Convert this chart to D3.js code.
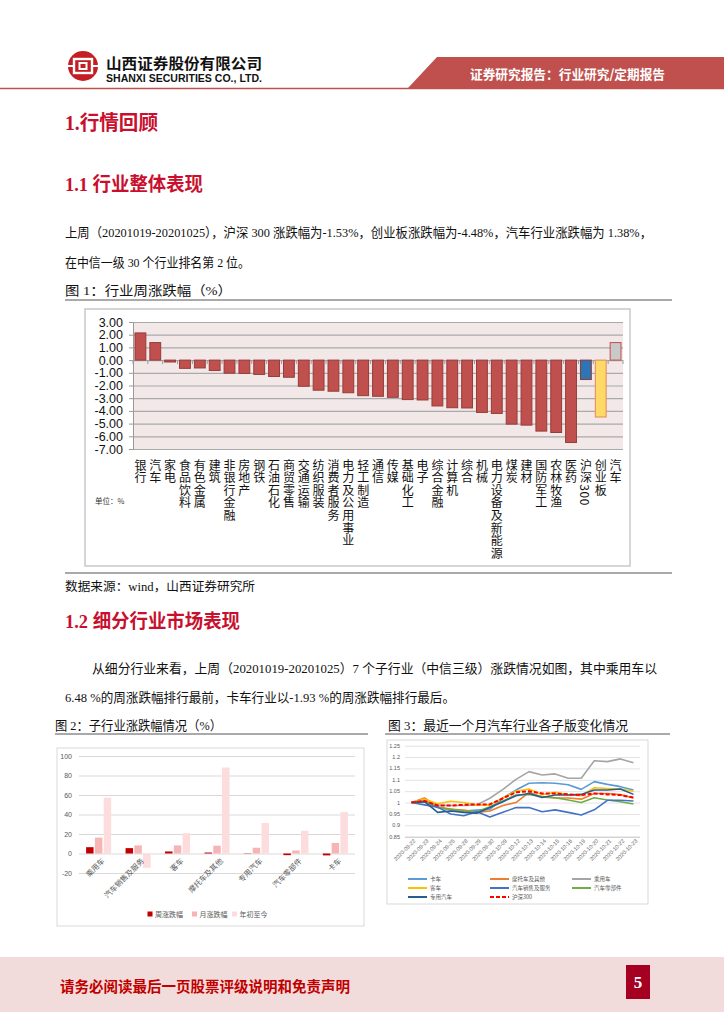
<!DOCTYPE html>
<html><head><meta charset="utf-8">
<script src="https://cdn.jsdelivr.net/npm/d3@7/dist/d3.min.js"></script>
<style>body{margin:0;background:#fff}svg{display:block}</style>
</head><body>
<script>
// ---------- DATA ----------
const industries = ["银行","汽车","家电","食品饮料","有色金属","建筑","非银行金融","房地产","钢铁","石油石化","商贸零售","交通运输","纺织服装","消费者服务","电力及公用事业","轻工制造","通信","传媒","基础化工","电子","综合金融","计算机","综合","机械","电力设备及新能源","煤炭","建材","国防军工","农林牧渔","医药","沪深300","创业板","汽车"];
const weeklyChg = [2.14,1.38,-0.15,-0.65,-0.62,-0.82,-1.03,-1.05,-1.13,-1.29,-1.35,-2.06,-2.37,-2.45,-2.57,-2.80,-2.85,-2.93,-3.11,-3.14,-3.61,-3.75,-3.77,-4.12,-4.20,-5.04,-5.12,-5.59,-5.70,-6.49,-1.53,-4.48,1.38];
const yTicks1 = [3,2,1,0,-1,-2,-3,-4,-5,-6,-7];

const subCats = ["乘用车","汽车销售及服务","客车","摩托车及其他","专用汽车","汽车零部件","卡车"];
const subWeek = [6.48,5.5,2.1,1.0,0.3,-1.7,-1.93];
const subMonth = [16.3,8.3,8.3,8.0,5.9,3.1,10.8];
const subYtd = [57.3,-14.6,20.8,88.2,31.3,23.3,42.4];
const seriesNames2 = ["周涨跌幅","月涨跌幅","年初至今"];
const yTicks2 = [100,80,60,40,20,0,-20];

const dates = ["2020-09-22","2020-09-23","2020-09-24","2020-09-25","2020-09-28","2020-09-29","2020-09-30","2020-10-09","2020-10-12","2020-10-13","2020-10-14","2020-10-15","2020-10-16","2020-10-19","2020-10-20","2020-10-21","2020-10-22","2020-10-23"];
const truck    = [1.000,1.004,0.980,0.967,0.963,0.967,0.970,1.020,1.055,1.085,1.087,1.085,1.078,1.058,1.092,1.080,1.070,1.055];
const moto     = [1.000,1.020,0.980,0.970,0.967,0.957,0.963,0.987,1.000,1.045,1.025,1.020,1.020,1.015,1.040,1.040,1.035,1.020];
const passenger= [1.000,1.016,0.989,0.987,0.987,0.990,1.019,1.058,1.102,1.136,1.121,1.126,1.107,1.107,1.184,1.180,1.192,1.175];
const bus      = [1.000,1.015,0.995,1.006,1.000,0.990,0.990,1.020,1.050,1.060,1.035,1.045,1.035,1.030,1.065,1.062,1.060,1.050];
const dealer   = [1.000,0.990,0.980,0.950,0.942,0.960,0.937,0.957,0.978,0.978,0.960,0.968,0.957,0.945,0.968,1.010,1.010,1.007];
const parts    = [1.000,1.007,0.978,0.972,0.963,0.960,0.982,1.007,1.033,1.036,1.026,1.021,1.011,1.000,1.021,1.011,1.004,0.994];
const special  = [1.000,1.004,0.957,0.963,0.957,0.953,0.978,1.004,1.030,1.040,1.022,1.033,1.033,1.036,1.055,1.055,1.060,1.036];
const hs300    = [1.000,1.007,0.987,0.987,0.990,0.992,0.992,1.019,1.045,1.050,1.040,1.040,1.036,1.033,1.040,1.036,1.033,1.022];
const seriesNames3 = ["卡车","摩托车及其他","乘用车","客车","汽车销售及服务","汽车零部件","专用汽车","沪深300"];
const yTicks3 = [1.25,1.2,1.15,1.1,1.05,1,0.95,0.9,0.85];

// ---------- PAGE ----------
const svg = d3.select("body").append("svg").attr("width",724).attr("height",1024);
const SERIF = "'Liberation Serif','Noto Sans CJK SC',serif";
const SANS = "'Liberation Sans','Noto Sans CJK SC',sans-serif";
const CJK = "'Noto Sans CJK SC',sans-serif";
const RED = "#c8102e";

function txt(x,y,s,opt={}){
  const t = svg.append("text").attr("x",x).attr("y",y).text(s)
    .attr("dominant-baseline","central")
    .style("font-family",opt.family||SERIF).style("font-size",(opt.size||13)+"px")
    .style("fill",opt.color||"#111").style("font-weight",opt.weight||"normal");
  if(opt.len){t.attr("textLength",opt.len).attr("lengthAdjust","spacingAndGlyphs");}
  if(opt.anchor) t.attr("text-anchor",opt.anchor);
  return t;
}

// header
const logo = svg.append("g").attr("transform","translate(83,66)");
logo.append("circle").attr("r",15).attr("fill","#c41e24");
logo.append("rect").attr("x",-9).attr("y",-7).attr("width",18).attr("height",14).attr("fill","none").attr("stroke","#fff").attr("stroke-width",2.4);
logo.append("rect").attr("x",-3.5).attr("y",-3).attr("width",7).attr("height",6).attr("fill","none").attr("stroke","#fff").attr("stroke-width",2);
logo.append("rect").attr("x",-15).attr("y",-1).attr("width",5).attr("height",2).attr("fill","#fff");
logo.append("rect").attr("x",10).attr("y",-1).attr("width",5).attr("height",2).attr("fill","#fff");
txt(106,62,"山西证券股份有限公司",{family:CJK,size:14.5,weight:"bold",color:"#111",len:156});
txt(106,78,"SHANXI SECURITIES CO., LTD.",{family:SANS,size:10,weight:"bold",color:"#111",len:156});
svg.append("polygon").attr("points","437,57 724,57 724,88 408,88").attr("fill","#c0504d");
svg.append("line").attr("x1",0).attr("x2",724).attr("y1",88.5).attr("y2",88.5).attr("stroke","#c0504d").attr("stroke-width",1.5);
txt(470,73,"证券研究报告：行业研究/定期报告",{family:CJK,size:13,weight:"bold",color:"#fff",len:195});

// headings & text
txt(65,123,"1.行情回顾",{size:20,weight:"bold",color:RED,len:93});
txt(65,184,"1.1 行业整体表现",{size:19,weight:"bold",color:RED,len:138});
txt(65,232,"上周（20201019-20201025），沪深 300 涨跌幅为-1.53%，创业板涨跌幅为-4.48%，汽车行业涨跌幅为 1.38%，",{size:13,len:587});
txt(65,262,"在中信一级 30 个行业排名第 2 位。",{size:13,len:185});
txt(65,290,"图 1：行业周涨跌幅（%）",{size:13,len:167});
svg.append("line").attr("x1",65).attr("x2",672).attr("y1",300).attr("y2",300).attr("stroke","#555").attr("stroke-width",1);
svg.append("rect").attr("x",85).attr("y",309).attr("width",545).attr("height",257).attr("fill","#fff").attr("stroke","#c8c8c8").attr("stroke-width",1.5);
svg.append("line").attr("x1",65).attr("x2",672).attr("y1",573).attr("y2",573).attr("stroke","#555").attr("stroke-width",1);
txt(65,587,"数据来源：wind，山西证券研究所",{size:12.5,len:190});
txt(65,621,"1.2 细分行业市场表现",{size:19,weight:"bold",color:RED,len:175});
txt(92,668,"从细分行业来看，上周（20201019-20201025）7 个子行业（中信三级）涨跌情况如图，其中乘用车以",{size:13,len:565});
txt(65,697,"6.48 %的周涨跌幅排行最前，卡车行业以-1.93 %的周涨跌幅排行最后。",{size:13,len:390});
txt(55,725,"图 2：子行业涨跌幅情况（%）",{size:13,len:167});
txt(388,725,"图 3：最近一个月汽车行业各子版变化情况",{size:13,len:240});
svg.append("line").attr("x1",55).attr("x2",368).attr("y1",734).attr("y2",734).attr("stroke","#555");
svg.append("line").attr("x1",385).attr("x2",670).attr("y1",734).attr("y2",734).attr("stroke","#555");

// ---------- CHART 1 ----------
const g1 = svg.append("g");
const x1 = d3.scaleBand().domain(d3.range(industries.length)).range([133,623]).paddingInner(0.27).paddingOuter(0.135);
const y1 = d3.scaleLinear().domain([-7,3]).range([449,322]);
g1.append("rect").attr("x",133).attr("y",y1(3)).attr("width",490).attr("height",y1(-7)-y1(3)).attr("fill","#f3e8e8");
g1.selectAll(".gl").data(yTicks1).join("line").attr("x1",133).attr("x2",623)
  .attr("y1",d=>y1(d)+0.5).attr("y2",d=>y1(d)+0.5).attr("stroke","#aaa").attr("stroke-width",1.2);
const ax1 = g1.append("g").attr("transform","translate(133,0)")
  .call(d3.axisLeft(y1).tickValues(yTicks1).tickSize(4).tickFormat(d=>d.toFixed(2)));
ax1.select(".domain").attr("stroke","#999");
ax1.selectAll(".tick line").attr("stroke","#999");
ax1.selectAll("text").style("font-family",SANS).style("font-size","12.5px").style("fill","#111").attr("x",-10);
const bounds = d3.range(industries.length+1).map(i=>x1.range()[0]+i*x1.step());
g1.selectAll(".bt").data(bounds).join("line").attr("x1",d=>d).attr("x2",d=>d)
  .attr("y1",y1(0)).attr("y2",y1(0)+4).attr("stroke","#999");
const barColor = i => i===30 ? "#2e75b6" : i===31 ? "#ffd966" : i===32 ? "#c9c9c9" : "#c0504d";
const barStroke = i => i===30 ? "#8b3a37" : i===31 ? "#e08a5a" : i===32 ? "#c0504d" : "#963c39";
g1.selectAll(".bar").data(weeklyChg).join("rect")
  .attr("x",(d,i)=>x1(i)).attr("width",x1.bandwidth())
  .attr("y",d=>y1(Math.max(0,d))).attr("height",d=>Math.abs(y1(d)-y1(0)))
  .attr("fill",(d,i)=>barColor(i)).attr("stroke",(d,i)=>barStroke(i)).attr("stroke-width",1);
// vertical labels (one text per label, vertical writing mode)
g1.selectAll(".cl").data(industries).join("text")
  .attr("x",(d,i)=>x1(i)+x1.bandwidth()/2).attr("y",459)
  .style("writing-mode","vertical-rl").style("text-orientation","mixed")
  .style("letter-spacing","0.6px")
  .style("font-family",CJK).style("font-size","12px").style("fill","#111").text(d=>d);
txt(95,500,"单位：%",{family:CJK,size:7.5,color:"#333"});

// ---------- CHART 2 ----------
const g2 = svg.append("g");
svg.insert("rect","g").attr("x",57).attr("y",748).attr("width",307).attr("height",178).attr("fill","#fff").attr("stroke","#d9d9d9");
const x20 = d3.scaleBand().domain(subCats).range([79,355]).paddingInner(0.365).paddingOuter(0.18);
const x21 = d3.scaleBand().domain([0,1,2]).range([0,x20.bandwidth()]).paddingInner(0.15);
const y2 = d3.scaleLinear().domain([-20,100]).range([873,756]);
g2.selectAll(".gl").data(yTicks2).join("line").attr("x1",79).attr("x2",355)
  .attr("y1",d=>y2(d)+0.5).attr("y2",d=>y2(d)+0.5).attr("stroke","#d9d9d9");
g2.selectAll(".yl").data(yTicks2).join("text").attr("x",72).attr("y",d=>y2(d)).attr("text-anchor","end")
  .attr("dominant-baseline","central").style("font-family",SANS).style("font-size","7px").style("fill","#595959").text(d=>d);
const cols2 = ["#c00000","#f7b4b4","#fcdcdc"];
const series2 = [subWeek,subMonth,subYtd];
series2.forEach((arr,si)=>{
  g2.selectAll(".b"+si).data(arr).join("rect")
    .attr("x",(d,i)=>x20(subCats[i])+x21(si)).attr("width",x21.bandwidth())
    .attr("y",d=>y2(Math.max(0,d))).attr("height",d=>Math.abs(y2(d)-y2(0)))
    .attr("fill",cols2[si]);
});
subCats.forEach(c=>{
  const cx = x20(c)+x20.bandwidth()/2+4;
  g2.append("text").attr("transform",`translate(${cx},859) rotate(-45)`).attr("text-anchor","end")
    .attr("dominant-baseline","central").style("font-family",CJK).style("font-size","7.5px").style("fill","#595959").text(c);
});
const lg2x = [150,194.5,234.5];
seriesNames2.forEach((n,i)=>{
  g2.append("rect").attr("x",lg2x[i]-2.5).attr("y",911.5).attr("width",5).attr("height",5).attr("fill",cols2[i]);
  g2.append("text").attr("x",lg2x[i]+5).attr("y",914).attr("dominant-baseline","central")
    .style("font-family",CJK).style("font-size","7px").style("fill","#595959").text(n);
});

// ---------- CHART 3 ----------
const g3 = svg.append("g");
svg.insert("rect","g").attr("x",387).attr("y",740).attr("width",261).attr("height",164).attr("fill","#fff").attr("stroke","#d9d9d9");
const x3 = d3.scalePoint().domain(dates).range([405,640]).padding(0.5);
const y3 = d3.scaleLinear().domain([0.85,1.25]).range([836.7,745.7]);
g3.selectAll(".gl").data(yTicks3).join("line").attr("x1",405).attr("x2",640)
  .attr("y1",d=>y3(d)+0.5).attr("y2",d=>y3(d)+0.5).attr("stroke",d=>d===0.85?"#bfbfbf":"#e3e3e3");
g3.selectAll(".yl").data(yTicks3).join("text").attr("x",400).attr("y",d=>y3(d)).attr("text-anchor","end")
  .attr("dominant-baseline","central").style("font-family",SANS).style("font-size","5.5px").style("fill","#595959").text(d=>d);
dates.forEach(d=>{
  g3.append("text").attr("transform",`translate(${x3(d)+3},840) rotate(-45)`).attr("text-anchor","end")
    .attr("dominant-baseline","central").style("font-family",SANS).style("font-size","5.5px").style("fill","#595959").text(d);
});
const series3 = [truck,moto,passenger,bus,dealer,parts,special,hs300];
const cols3 = ["#5b9bd5","#ed7d31","#a5a5a5","#ffc000","#4472c4","#70ad47","#255e91","#ff0000"];
const line3 = d3.line().x((d,i)=>x3(dates[i])).y(d=>y3(d));
const order = [2,0,1,3,5,4,6,7];
order.forEach(si=>{
  g3.append("path").datum(series3[si]).attr("d",line3).attr("fill","none").attr("stroke",cols3[si])
    .attr("stroke-width",si===7?2:1.6).attr("stroke-dasharray",si===7?"4,2":null).attr("stroke-linejoin","round");
});
const lgCols = [408,490,572], lgRows = [879,888,897];
seriesNames3.forEach((n,i)=>{
  const lx = lgCols[i%3], ly = lgRows[Math.floor(i/3)];
  g3.append("line").attr("x1",lx).attr("x2",lx+19).attr("y1",ly).attr("y2",ly).attr("stroke",cols3[i])
    .attr("stroke-width",2).attr("stroke-dasharray",i===7?"4,2":null);
  g3.append("text").attr("x",lx+22).attr("y",ly).attr("dominant-baseline","central")
    .style("font-family",CJK).style("font-size","5.5px").style("fill","#595959").text(n);
});

// ---------- FOOTER ----------
svg.append("rect").attr("x",0).attr("y",957).attr("width",724).attr("height",55).attr("fill","#f2dcdb");
txt(60,985,"请务必阅读最后一页股票评级说明和免责声明",{family:CJK,size:14.5,weight:"bold",color:"#c00000",len:290});
svg.append("rect").attr("x",626).attr("y",965).attr("width",24).attr("height",34).attr("fill","#a50021");
txt(638,982,"5",{family:SERIF,size:17,weight:"bold",color:"#fff",anchor:"middle"});
</script>
</body></html>
